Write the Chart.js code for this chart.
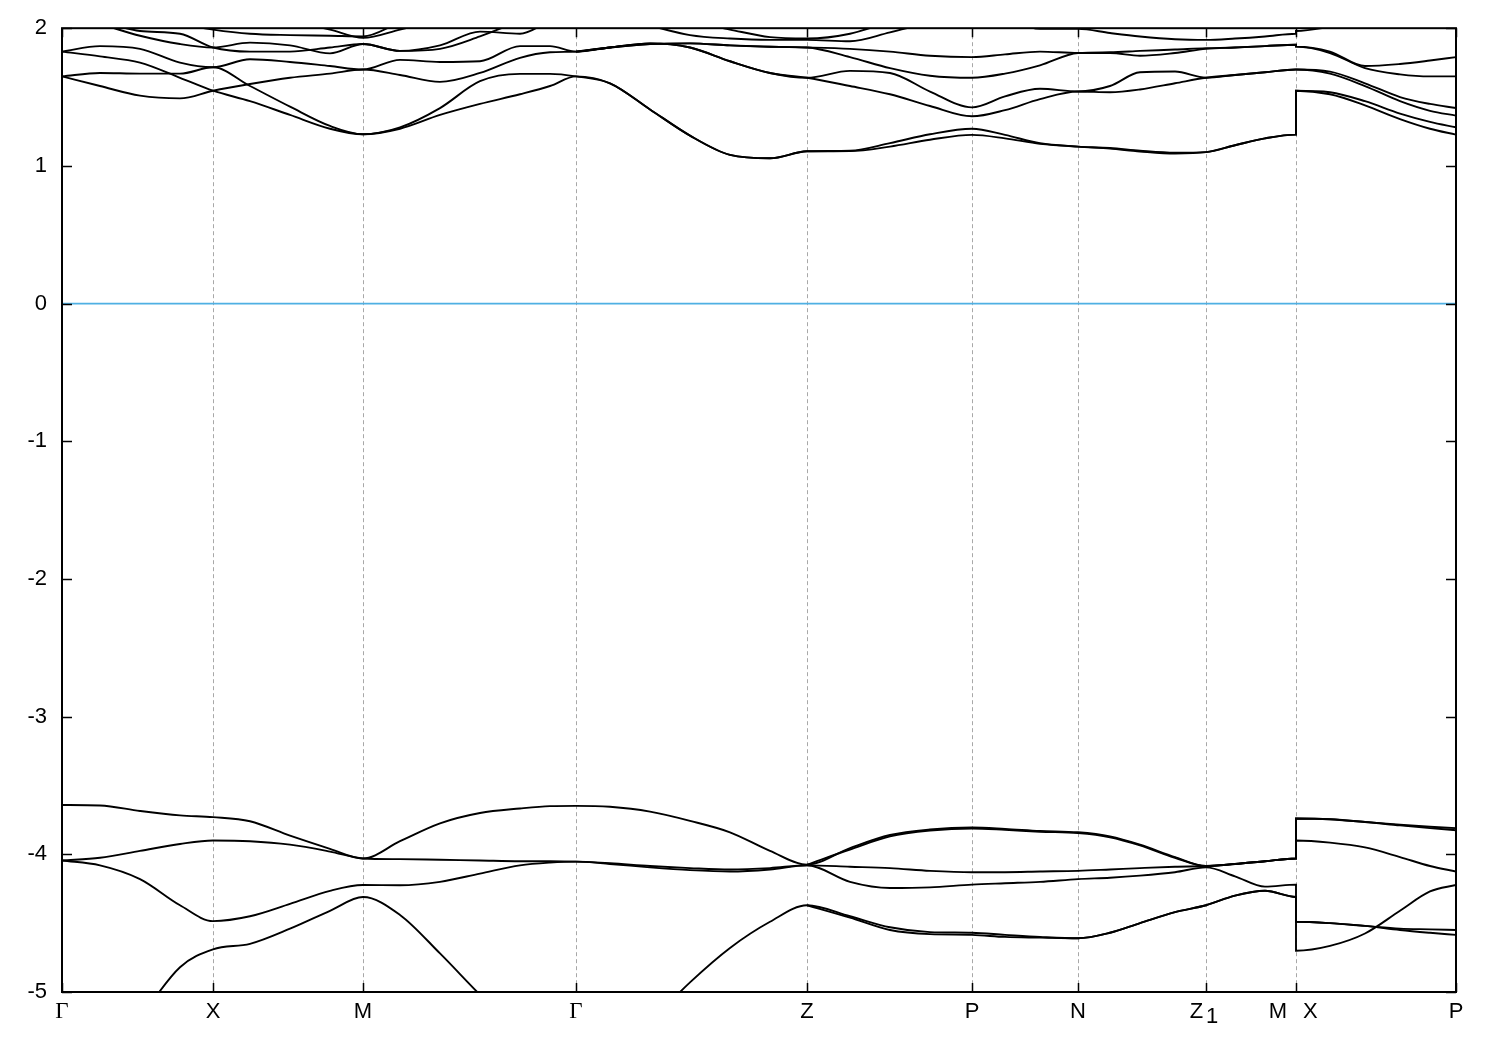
<!DOCTYPE html>
<html>
<head>
<meta charset="utf-8">
<script src="https://cdn.jsdelivr.net/npm/chart.js@4.4.1/dist/chart.umd.min.js"></script>
<style>
  html, body { margin: 0; padding: 0; background: #fff; }
</style>
</head>
<body>
<canvas id="bands" width="1500" height="1050"></canvas>
<script>
// path coordinate along the k-path (Γ -> ... -> M | X -> P)
const kLeft = [0, 38, 78, 118, 151, 188, 228, 268, 301, 338, 378, 418, 458, 488, 514,
  548, 588, 628, 668, 708, 745, 788, 828, 868, 910, 943, 978, 1016, 1048, 1078, 1113,
  1144, 1173, 1203, 1234];
const kRight = [1234, 1268, 1303, 1338, 1368, 1394];

const kTicks = [0, 151, 301, 514, 745, 910, 1016, 1144, 1234, 1394];
const kLabels = ["Γ", "X", "M", "Γ", "Z", "P", "N", "Z_1", "M X", "P"];

const yTicks = [2, 1, 0, -1, -2, -3, -4, -5];
const fermiLevel = 0;

const _ = null;

// conduction bands, eV (left part Γ..M, right part X..P)
const c1L = [1.65, 1.675, 1.67, 1.67, 1.716, 1.58, 1.43, 1.29, 1.23, 1.28, 1.42, 1.615, 1.668, 1.668, 1.65,
  1.60, 1.41, 1.22, 1.08, 1.055, 1.106, 1.11, 1.165, 1.23, 1.27, 1.225, 1.165, 1.14,
  1.125, 1.105, 1.09, 1.10, 1.15, 1.20, 1.227];
const c1R = [1.546, 1.535, 1.47, 1.38, 1.32, 1.28];

const c2L = [1.83, 1.795, 1.75, 1.64, 1.546, 1.47, 1.37, 1.27, 1.23, 1.27, 1.37, 1.45, 1.52, 1.58, 1.65,
  1.60, 1.41, 1.22, 1.08, 1.055, 1.106, 1.107, 1.14, 1.19, 1.225, 1.20, 1.16, 1.14,
  1.13, 1.11, 1.095, 1.10, 1.15, 1.20, 1.227];
const c2R = [1.546, 1.52, 1.44, 1.34, 1.27, 1.227];

const c3L = [1.65, 1.58, 1.51, 1.49, 1.546, 1.595, 1.64, 1.67, 1.70, 1.66, 1.61, 1.675, 1.785, 1.825, 1.83,
  1.86, 1.89, 1.86, 1.76, 1.675, 1.64, 1.58, 1.52, 1.435, 1.36, 1.405, 1.485, 1.54,
  1.535, 1.555, 1.60, 1.64, 1.66, 1.68, 1.70];
const c3R = [1.70, 1.685, 1.60, 1.50, 1.45, 1.42];

const c3bL = [_, _, _, _, _, _, _, _, _, _, _, _, _, _, 1.83,
  1.86, 1.89, 1.86, 1.76, 1.675, 1.64, 1.69, 1.675, 1.54, 1.425, 1.505, 1.56, 1.54,
  1.58, 1.68, 1.685, 1.64, 1.66, 1.68, 1.70];
const c3bR = [1.70, 1.67, 1.58, 1.47, 1.40, 1.365];

const c4L = [1.83, 1.87, 1.85, 1.75, 1.716, 1.775, 1.755, 1.725, 1.70, 1.77, 1.755, 1.76, 1.87, 1.87, 1.83,
  1.86, 1.885, 1.89, 1.875, 1.865, 1.86, 1.85, 1.83, 1.80, 1.79, 1.81, 1.83, 1.82,
  1.82, 1.80, 1.82, 1.85, 1.86, 1.87, 1.88];
const c4R = [1.866, 1.83, 1.725, 1.74, 1.765, 1.79];

const c4bL = [_, _, _, _, _, _, _, _, _, _, _, _, _, _, 1.83,
  1.86, 1.885, 1.89, 1.875, 1.865, 1.86, 1.79, 1.71, 1.655, 1.64, 1.67, 1.73, 1.82,
  1.825, 1.835, 1.845, 1.855, 1.86, 1.87, 1.88];
const c4bR = [1.866, 1.82, 1.71, 1.665, 1.65, 1.65];

const c5L = [2.1, 2.03, 1.945, 1.885, 1.86, 1.895, 1.875, 1.817, 1.885, 1.835, 1.85, 1.94, 2.05, 2.1, 2.15,
  2.1, 2.02, 1.95, 1.925, 1.915, 1.915, 1.905, 1.97, 2.04, 2.1, 2.07, 1.995, 1.995,
  1.965, 1.94, 1.92, 1.915, 1.925, 1.94, 1.96];
const c5R = [1.98, 2.01, 2.06, _, _, _];

const c6L = [2.1, 2.05, 1.98, 1.96, 1.86, 1.83, 1.83, 1.86, 1.885, 1.835, 1.875, 1.975, 1.96, 2.05, 2.1,
  2.1, 2.08, 2.05, 1.99, 1.935, 1.925, 1.96, 2.05, 2.15, _, _, _, _,
  _, _, _, _, _, _, _];

const c7L = [2.15, 2.12, 2.08, 2.03, 1.99, 1.96, 1.95, 1.945, 1.94, 2.04, 2.12, _, _, _, _,
  _, _, _, _, _, _, _, _, _, _, _, _, _, _, _, _, _, _, _, _];

const c8L = [_, _, _, _, _, 2.1, 2.05, 1.99, 1.93, 1.99, 2.06, _, _, _, _,
  _, _, _, _, _, _, _, _, _, _, _, _, _, _, _, _, _, _, _, _];

// valence bands, eV
const v1L = [-3.642, -3.645, -3.685, -3.717, -3.73, -3.76, -3.865, -3.96, -4.03, -3.905, -3.775, -3.70, -3.667, -3.65, -3.648,
  -3.655, -3.69, -3.757, -3.84, -3.975, -4.075, -3.955, -3.86, -3.82, -3.805, -3.815, -3.83, -3.84,
  -3.87, -3.93, -4.02, -4.085, -4.07, -4.05, -4.03];
const v1R = [-3.74, -3.745, -3.765, -3.785, -3.80, -3.81];

const v1bL = [_, _, _, _, _, _, _, _, _, _, _, _, _, _, _, _, _, _, _, _, -4.075,
  -3.965, -3.87, -3.828, -3.812, -3.822, -3.836, -3.846,
  -3.876, -3.935, -4.025, -4.085, -4.07, -4.05, -4.03];
const v1bR = [-3.74, -3.745, -3.765, -3.79, -3.81, -3.825];

const v2L = [-4.045, -4.025, -3.975, -3.925, -3.90, -3.905, -3.93, -3.98, -4.03, -4.035, -4.04, -4.045, -4.05, -4.05, -4.053,
  -4.065, -4.085, -4.10, -4.11, -4.10, -4.08, -4.09, -4.10, -4.12, -4.13, -4.13, -4.125, -4.12,
  -4.11, -4.10, -4.09, -4.085, -4.07, -4.05, -4.03];
const v2R = [-3.90, -3.915, -3.95, -4.02, -4.085, -4.125];

const v3L = [-4.045, -4.08, -4.18, -4.37, -4.485, -4.45, -4.36, -4.265, -4.223, -4.225, -4.20, -4.14, -4.08, -4.06, -4.053,
  -4.07, -4.095, -4.115, -4.125, -4.11, -4.08, -4.20, -4.245, -4.24, -4.22, -4.21, -4.20, -4.18,
  -4.17, -4.155, -4.13, -4.095, -4.16, -4.235, -4.22];
const v3R = [-4.49, -4.50, -4.52, -4.54, -4.545, -4.55];

const v4L = [-5.9, -5.56, -5.19, -4.82, -4.69, -4.65, -4.54, -4.41, -4.31, -4.44, -4.72, -5.02, -5.3, -5.5, -5.6,
  -5.5, -5.22, -4.93, -4.68, -4.49, -4.37, -4.45, -4.53, -4.565, -4.57, -4.585, -4.60, -4.61,
  -4.57, -4.50, -4.42, -4.37, -4.30, -4.265, -4.31];
const v4R = [-4.70, -4.665, -4.575, -4.41, -4.27, -4.223];

const v4bL = [_, _, _, _, _, _, _, _, _, _, _, _, _, _, _, _, _, _, _, _, -4.37,
  -4.46, -4.55, -4.58, -4.585, -4.60, -4.605, -4.61,
  -4.57, -4.50, -4.42, -4.37, -4.30, -4.265, -4.31];
const v4bR = [-4.49, -4.50, -4.52, -4.55, -4.57, -4.585];

const bandList = [
  [c1L, c1R], [c2L, c2R], [c3L, c3R], [c3bL, c3bR], [c4L, c4R], [c4bL, c4bR],
  [c5L, c5R], [c6L, null], [c7L, null], [c8L, null],
  [v1L, v1R], [v1bL, v1bR], [v2L, v2R], [v3L, v3R], [v4L, v4R], [v4bL, v4bR],
];

// build {x,y} points; left and right share x at M|X so the jump is drawn vertical
const datasets = bandList.map(([left, right]) => {
  const pts = left.map((e, i) => ({ x: kLeft[i], y: e }));
  if (right) right.forEach((e, i) => pts.push({ x: kRight[i], y: e }));
  return {
    data: pts,
    showLine: true,
    borderColor: "#000",
    borderWidth: 1.9,
    pointRadius: 0,
    cubicInterpolationMode: "monotone",
  };
});

datasets.push({
  data: [{ x: kTicks[0], y: fermiLevel }, { x: kTicks[kTicks.length - 1], y: fermiLevel }],
  showLine: true,
  borderColor: "#4fb0e3",
  borderWidth: 1.8,
  pointRadius: 0,
});

const sansFont = '22px "Liberation Sans", Arial, sans-serif';
const serifFont = '23px "Liberation Serif", "Times New Roman", serif';

const framePlugin = {
  id: "frame",
  beforeDatasetsDraw(chart) {
    const { ctx, chartArea: a, scales } = chart;
    ctx.save();
    ctx.strokeStyle = "#a8a8a8";
    ctx.lineWidth = 1;
    ctx.setLineDash([4, 3]);
    kTicks.slice(1, -1).forEach((k) => {
      const px = Math.round(scales.x.getPixelForValue(k)) + 0.5;
      ctx.beginPath();
      ctx.moveTo(px, a.top);
      ctx.lineTo(px, a.bottom);
      ctx.stroke();
    });
    ctx.restore();
  },
  afterDatasetsDraw(chart) {
    const { ctx, chartArea: a, scales } = chart;
    ctx.save();
    ctx.strokeStyle = "#000";
    ctx.lineWidth = 2;
    ctx.strokeRect(a.left, a.top, a.right - a.left, a.bottom - a.top);

    // inward ticks
    ctx.lineWidth = 1.5;
    ctx.beginPath();
    yTicks.forEach((v) => {
      const py = Math.round(scales.y.getPixelForValue(v)) + 0.5;
      ctx.moveTo(a.left, py); ctx.lineTo(a.left + 10, py);
      ctx.moveTo(a.right, py); ctx.lineTo(a.right - 10, py);
    });
    kTicks.forEach((k) => {
      const px = Math.round(scales.x.getPixelForValue(k)) + 0.5;
      ctx.moveTo(px, a.bottom); ctx.lineTo(px, a.bottom - 9);
      ctx.moveTo(px, a.top); ctx.lineTo(px, a.top + 9);
    });
    ctx.stroke();

    // k-point labels
    ctx.fillStyle = "#000";
    ctx.textBaseline = "alphabetic";
    const base = a.bottom + 26;
    kTicks.forEach((k, i) => {
      const px = scales.x.getPixelForValue(k);
      const lab = kLabels[i];
      if (lab === "Γ") {
        ctx.font = serifFont;
        ctx.textAlign = "center";
        ctx.fillText(lab, px, base);
      } else if (lab.includes("_")) {
        const [main, sub] = lab.split("_");
        ctx.font = sansFont;
        const wm = ctx.measureText(main).width;
        const ws = ctx.measureText(sub).width;
        const x0 = px - 2 - (wm + ws + 3) / 2;
        ctx.textAlign = "left";
        ctx.fillText(main, x0, base);
        ctx.fillText(sub, x0 + wm + 3, base + 5);
      } else if (lab.includes(" ")) {
        const [l, r] = lab.split(" ");
        ctx.font = sansFont;
        ctx.textAlign = "right";
        ctx.fillText(l, px - 9, base);
        ctx.textAlign = "left";
        ctx.fillText(r, px + 7, base);
      } else {
        ctx.font = sansFont;
        ctx.textAlign = "center";
        ctx.fillText(lab, px, base);
      }
    });
    ctx.restore();
  },
};

new Chart(document.getElementById("bands"), {
  type: "scatter",
  data: { datasets },
  options: {
    responsive: false,
    animation: false,
    events: [],
    layout: { padding: { top: 28, right: 44, left: 0, bottom: 0 } },
    plugins: { legend: { display: false }, tooltip: { enabled: false } },
    scales: {
      x: {
        type: "linear",
        min: kTicks[0],
        max: kTicks[kTicks.length - 1],
        grid: { display: false, drawTicks: false },
        border: { display: false },
        ticks: { display: false },
        afterFit(s) { s.height = 58; },
      },
      y: {
        min: -5,
        max: 2,
        grid: { display: false, drawTicks: false },
        border: { display: false },
        ticks: {
          stepSize: 1,
          color: "#000",
          padding: 15,
          font: { family: '"Liberation Sans", Arial, sans-serif', size: 22 },
        },
        afterFit(s) { s.width = 62; },
      },
    },
  },
  plugins: [framePlugin],
});
</script>
</body>
</html>
